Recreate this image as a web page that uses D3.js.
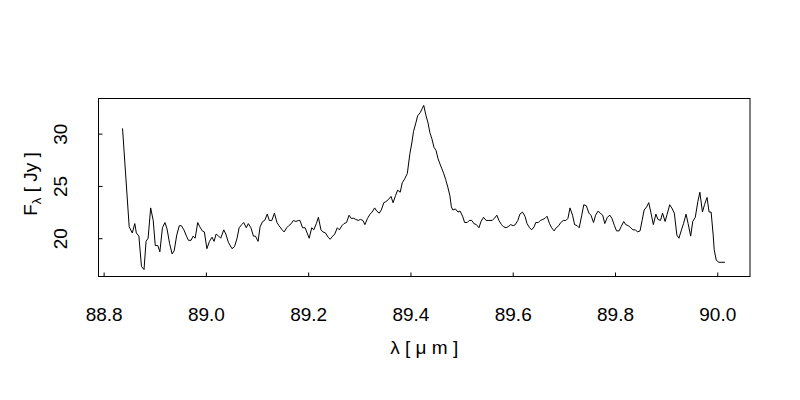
<!DOCTYPE html>
<html lang="en">
<head>
    <meta charset="UTF-8">
    <title>Spectrum</title>
    <script src="https://d3js.org/d3.v7.min.js"></script>
    <style>
        body {
            margin: 0;
            padding: 0;
            background-color: #fff;
            overflow: hidden;
        }
        text {
            font-family: "Liberation Sans", Arial, sans-serif;
            fill: #000;
        }
    </style>
</head>
<body>
    <div id="chart"></div>

    <script>
        // Wavelength (micron)
        const wavelength = [
            88.837, 88.850, 88.856, 88.861, 88.864, 88.869, 88.874, 88.879, 88.883, 88.887,
            88.892, 88.897, 88.901, 88.906, 88.910, 88.915, 88.920, 88.924, 88.929, 88.934,
            88.938, 88.943, 88.948, 88.952, 88.957, 88.962, 88.966, 88.971, 88.975, 88.979,
            88.984, 88.988, 88.993, 88.997, 89.002, 89.007, 89.012, 89.016, 89.020, 89.025,
            89.029, 89.035, 89.039, 89.044, 89.051, 89.056, 89.061, 89.065, 89.070, 89.074,
            89.079, 89.083, 89.088, 89.093, 89.097, 89.102, 89.106, 89.111, 89.115, 89.120,
            89.124, 89.129, 89.134, 89.139, 89.143, 89.149, 89.153, 89.158, 89.162, 89.167,
            89.171, 89.176, 89.181, 89.184, 89.189, 89.194, 89.198, 89.202, 89.207, 89.211,
            89.216, 89.220, 89.225, 89.229, 89.234, 89.239, 89.243, 89.248, 89.252, 89.257,
            89.261, 89.266, 89.270, 89.275, 89.280, 89.284, 89.289, 89.293, 89.298, 89.302,
            89.307, 89.311, 89.316, 89.321, 89.325, 89.330, 89.334, 89.339, 89.343, 89.348,
            89.352, 89.357, 89.362, 89.366, 89.371, 89.375, 89.380, 89.384, 89.389, 89.394,
            89.396, 89.399, 89.403, 89.406, 89.411, 89.414, 89.419, 89.423, 89.426, 89.430,
            89.434, 89.438, 89.442, 89.446, 89.450, 89.454, 89.457, 89.461, 89.465, 89.469,
            89.473, 89.477, 89.480, 89.483, 89.488, 89.493, 89.497, 89.502, 89.506, 89.511,
            89.515, 89.520, 89.524, 89.529, 89.534, 89.538, 89.543, 89.548, 89.552, 89.560,
            89.564, 89.569, 89.573, 89.578, 89.582, 89.587, 89.591, 89.596, 89.601, 89.605,
            89.610, 89.614, 89.619, 89.624, 89.628, 89.633, 89.637, 89.642, 89.645, 89.650,
            89.654, 89.659, 89.663, 89.667, 89.672, 89.676, 89.681, 89.685, 89.690, 89.694,
            89.699, 89.704, 89.708, 89.712, 89.717, 89.721, 89.726, 89.730, 89.735, 89.739,
            89.744, 89.749, 89.753, 89.758, 89.762, 89.767, 89.771, 89.776, 89.780, 89.785,
            89.790, 89.794, 89.799, 89.803, 89.808, 89.812, 89.817, 89.821, 89.826, 89.831,
            89.835, 89.840, 89.844, 89.849, 89.853, 89.857, 89.862, 89.866, 89.870, 89.875,
            89.880, 89.884, 89.889, 89.893, 89.898, 89.902, 89.907, 89.911, 89.916, 89.921,
            89.925, 89.930, 89.934, 89.939, 89.943, 89.948, 89.952, 89.957, 89.962, 89.966,
            89.971, 89.975, 89.980, 89.984, 89.988, 89.992, 89.994, 89.998, 90.003, 90.009,
            90.015
        ];

        // Flux density (Jy)
        const flux = [
            30.5, 21.1, 20.5, 21.4, 20.5, 20.2, 17.3, 17.0, 19.7, 20.0,
            22.9, 21.7, 19.3, 19.3, 18.7, 21.0, 21.5, 20.9, 19.5, 18.5,
            18.8, 20.3, 21.2, 21.2, 20.8, 20.2, 19.8, 19.8, 20.2, 20.0,
            21.5, 21.1, 20.7, 20.6, 19.0, 19.7, 20.1, 19.7, 20.4, 20.2,
            20.0, 20.8, 20.4, 19.6, 19.0, 19.2, 20.0, 21.0, 21.3, 21.5,
            21.0, 21.4, 21.0, 20.2, 20.2, 19.7, 21.1, 21.6, 21.7, 22.3,
            21.7, 21.7, 22.4, 21.5, 21.2, 20.8, 20.6, 21.0, 21.2, 21.4,
            21.7, 21.6, 21.7, 21.7, 21.0, 21.0, 20.5, 20.0, 21.0, 20.8,
            21.4, 22.0, 20.8, 20.6, 20.5, 20.1, 19.9, 20.2, 20.4, 21.0,
            20.8, 21.2, 21.4, 21.5, 22.2, 21.9, 21.9, 21.8, 21.7, 21.8,
            21.7, 21.3, 21.9, 22.3, 22.5, 22.9, 22.6, 22.4, 22.7, 23.4,
            23.5, 23.7, 24.0, 23.4, 24.1, 24.6, 24.4, 25.3, 25.7, 26.2,
            27.0, 28.1, 29.2, 30.2, 31.1, 31.7, 32.0, 32.4, 32.7, 31.8,
            31.1, 30.1, 29.5, 28.7, 28.4, 27.6, 27.2, 26.7, 26.2, 25.6,
            24.9, 24.1, 23.0, 22.7, 22.8, 22.5, 22.6, 22.1, 21.5, 21.5,
            21.7, 21.7, 21.4, 21.3, 21.0, 21.6, 22.0, 21.7, 21.7, 21.7,
            21.9, 22.2, 21.7, 21.3, 21.1, 21.0, 21.1, 21.3, 21.2, 21.3,
            21.7, 22.3, 22.5, 22.1, 21.4, 21.0, 20.8, 21.1, 21.5, 21.5,
            21.7, 21.8, 21.9, 22.1, 21.4, 21.0, 20.7, 21.0, 21.2, 21.5,
            21.7, 21.7, 21.9, 22.9, 22.2, 21.3, 21.2, 21.0, 22.2, 23.2,
            23.1, 22.4, 22.2, 21.5, 22.2, 22.6, 22.4, 22.2, 21.4, 22.0,
            22.2, 21.9, 21.2, 20.7, 20.7, 21.1, 21.6, 21.3, 21.2, 21.0,
            20.8, 20.8, 20.6, 20.7, 21.7, 22.7, 23.0, 23.4, 22.5, 21.3,
            22.3, 21.8, 21.7, 22.4, 21.6, 22.3, 23.2, 22.9, 22.4, 20.3,
            20.0, 20.8, 21.4, 22.3, 21.4, 20.2, 21.6, 22.0, 23.5, 24.4,
            22.5, 23.2, 23.9, 22.5, 22.5, 20.3, 18.9, 17.9, 17.7, 17.7,
            17.7
        ];

        const xTicks = [88.8, 89.0, 89.2, 89.4, 89.6, 89.8, 90.0];
        const yTicks = [20, 25, 30];

        const width = 800;
        const height = 400;
        const margin = { top: 98.5, right: 50, bottom: 123.5, left: 98.5 };

        const svg = d3.select("#chart").append("svg")
            .attr("width", width)
            .attr("height", height);

        const x = d3.scaleLinear()
            .domain([88.790, 90.064])
            .range([margin.left, width - margin.right]);

        const y = d3.scaleLinear()
            .domain([16.34, 33.36])
            .range([height - margin.bottom, margin.top]);

        const points = wavelength.map((w, i) => ({ w: w, f: flux[i] }));

        // spectrum
        const line = d3.line()
            .x(d => x(d.w))
            .y(d => y(d.f));

        svg.append("path")
            .datum(points)
            .attr("fill", "none")
            .attr("stroke", "#000")
            .attr("stroke-width", 1)
            .attr("stroke-linejoin", "round")
            .attr("d", line);

        // x axis, ticks pointing inward
        const xAxis = svg.append("g")
            .attr("transform", `translate(0,${height - margin.bottom})`)
            .call(d3.axisBottom(x).tickValues(xTicks).tickSize(-4).tickFormat(d3.format(".1f")));
        xAxis.select(".domain").remove();
        xAxis.selectAll("line").attr("stroke", "#000");
        xAxis.selectAll("text")
            .attr("y", 44.5)
            .attr("dy", 0)
            .style("font-size", "19px")
            .style("font-family", "'Liberation Sans', Arial, sans-serif");

        // y axis, labels parallel to axis
        const yAxis = svg.append("g")
            .attr("transform", `translate(${margin.left},0)`)
            .call(d3.axisLeft(y).tickValues(yTicks).tickSize(-4));
        yAxis.select(".domain").remove();
        yAxis.selectAll("line").attr("stroke", "#000");
        yAxis.selectAll("text")
            .attr("x", 0)
            .attr("dy", 0)
            .attr("transform", "translate(-31.5,0) rotate(-90)")
            .attr("text-anchor", "middle")
            .style("font-size", "19px")
            .style("font-family", "'Liberation Sans', Arial, sans-serif");

        // plot frame
        svg.append("rect")
            .attr("x", margin.left)
            .attr("y", margin.top)
            .attr("width", width - margin.left - margin.right)
            .attr("height", height - margin.top - margin.bottom)
            .attr("fill", "none")
            .attr("stroke", "#000")
            .attr("stroke-width", 1);

        // axis titles
        svg.append("text")
            .attr("x", (margin.left + width - margin.right) / 2)
            .attr("y", 354)
            .attr("text-anchor", "middle")
            .style("font-size", "19px")
            .text("λ [ μ m ]");

        const yTitle = svg.append("text")
            .attr("transform", "translate(36.5,184) rotate(-90)")
            .attr("text-anchor", "middle")
            .style("font-size", "19px");
        yTitle.append("tspan").text("F");
        yTitle.append("tspan").attr("dy", 4).style("font-size", "13px").text("λ");
        yTitle.append("tspan").attr("dy", -4).text(" [ Jy ]");
    </script>
</body>
</html>
